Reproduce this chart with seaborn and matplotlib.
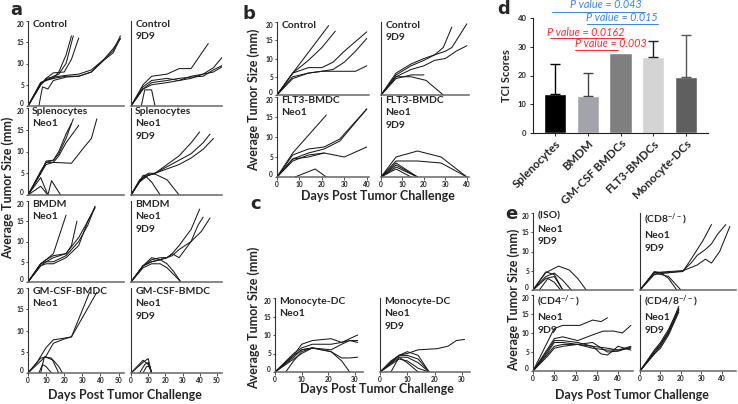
import numpy as np
import pandas as pd
import matplotlib
matplotlib.use("Agg")
import matplotlib.pyplot as plt
import seaborn as sns

sns.set_theme(style="white")
plt.rcParams['font.family'] = ['Lato', 'DejaVu Sans']
plt.rcParams['mathtext.default'] = 'regular'

# ---------------- data (day, tumor size) per mouse ----------------
# panel a
a_control = [
    ([0, 7, 10, 14, 17, 21, 24], [0, 5, 6.2, 6.5, 8, 12, 16.5]),
    ([0, 7, 10, 14, 17, 21, 25], [0, 5.5, 6, 7, 7.5, 10, 16.5]),
    ([0, 7, 10, 14, 20, 24, 28], [0, 5, 6.5, 7.8, 8, 11, 16]),
    ([0, 7, 10, 14, 21, 28, 35, 42, 47, 51], [0, 5.5, 6, 6.5, 7, 7, 8, 11, 13, 16.5]),
    ([0, 7, 10, 14, 21, 28, 35, 42, 47, 51], [0, 5, 6.5, 6.8, 7.2, 7.5, 8.5, 11, 13.5, 15.8]),
    ([6, 8, 11, 14, 21, 28, 35, 42, 47, 51], [0, 4.5, 4, 6, 6.8, 7, 8, 10.8, 12.5, 16]),
]
a_control_9d9 = [
    ([0, 7, 12, 21, 28, 35, 45], [0, 5, 7, 7.5, 8.8, 8.8, 14.7]),
    ([0, 7, 12, 21, 28, 35, 42, 48, 53], [0, 4.5, 6, 6.5, 6, 7, 7.5, 9, 11.4]),
    ([0, 7, 12, 21, 28, 35, 42, 48, 53], [0, 4, 5.5, 6, 6.5, 6.8, 7, 8.5, 9.5]),
    ([0, 7, 12, 21, 28, 35, 42, 48, 53], [0, 4, 5, 5.5, 6, 6.5, 7.5, 8, 9.2]),
    ([6, 8, 12, 14], [0, 3.8, 3.8, 0]),
]
a_spleno = [
    ([0, 7, 11], [0, 4, 0]),
    ([0, 7, 11, 13, 18], [0, 2, 0, 3.3, 0]),
    ([0, 7, 10, 14, 17, 21, 25], [0, 5, 7.5, 8, 9.5, 13, 17.5]),
    ([0, 7, 10, 14, 17, 21, 24], [0, 5, 7.8, 8, 10, 14, 16.5]),
    ([0, 7, 10, 14, 17, 21, 28], [0, 5.5, 7.5, 7.5, 9, 12, 16]),
    ([0, 7, 10, 14, 24, 31, 35, 38], [0, 5, 7, 7.5, 7.3, 11, 13, 17.5]),
]
a_spleno_9d9 = [
    ([0, 5, 10, 14, 21, 28, 35, 40], [0, 3, 4.5, 5, 7, 9, 12, 14.5]),
    ([0, 5, 10, 14, 21, 28, 35, 42, 46], [0, 3.5, 4.5, 5, 6.5, 8, 9.5, 12, 14]),
    ([0, 5, 10, 14, 21, 28, 35, 42, 48], [0, 3.2, 5, 5, 6, 7, 8.5, 10.5, 13]),
    ([0, 5, 8, 12, 17], [0, 3, 4.5, 3, 0]),
    ([0, 7, 14, 21, 28], [0, 4.5, 4.8, 3.5, 0]),
]
a_bmdm = [
    ([0, 7, 10, 14, 21], [0, 4.5, 5.5, 7, 16.5]),
    ([0, 7, 10, 14, 21, 24, 27], [0, 4.5, 5, 6, 7, 9, 15]),
    ([0, 7, 10, 14, 21, 28, 33, 37], [0, 4.5, 5.5, 6.5, 7, 11, 15, 18.5]),
    ([0, 7, 10, 14, 21, 28, 33, 37], [0, 4, 5, 5, 6.5, 10, 14, 18.7]),
    ([0, 7, 10, 14, 21, 28, 33, 37], [0, 4, 4.5, 4.5, 6, 9, 15, 18.3]),
]
a_bmdm_9d9 = [
    ([0, 7, 12, 17, 21, 24, 28, 35, 40], [0, 4, 6, 5.5, 6, 7, 9, 13, 18]),
    ([0, 7, 12, 17, 21, 24, 28, 35, 39, 42], [0, 4, 5.5, 6, 6, 7, 6, 10, 14, 16]),
    ([0, 7, 12, 17, 24, 28, 35, 41, 46], [0, 4, 5, 5.5, 6.5, 8, 10, 12.5, 15.8]),
    ([0, 7, 12, 17, 21, 25, 29], [0, 4, 5, 5.5, 4.5, 2.5, 0]),
    ([0, 7, 12, 17, 21, 28, 29], [0, 3.5, 4.5, 4.5, 3.5, 0.5, 0]),
]
a_gmcsf = [
    ([0, 5, 10, 14, 20, 24, 34], [0, 2.5, 6, 7.8, 8.2, 8.5, 19]),
    ([0, 5, 10, 14, 20, 24, 30, 38], [0, 2, 4, 7, 8, 8.5, 13, 19]),
    ([0, 7, 10, 14, 17, 19], [0, 3.5, 3.7, 3, 1.5, 0]),
    ([7, 9, 13, 17], [0, 3.8, 3.5, 0]),
    ([6, 8, 10, 13], [0, 2, 1.5, 0]),
]
a_gmcsf_9d9 = [
    ([0, 7, 10, 12], [0, 2.5, 3.4, 0]),
    ([0, 7, 10, 12], [0, 3, 2, 0]),
    ([5, 8, 10, 12], [0, 2, 2.5, 0]),
    ([7, 9, 11, 12], [0, 1.5, 1.5, 0]),
]
# panel b
b_control = [
    ([0, 7, 23], [0, 6, 19]),
    ([0, 7, 14, 20, 26], [0, 6, 9.5, 13, 17.5]),
    ([0, 7, 14, 20, 25, 30, 40], [0, 6, 7.5, 7.5, 9, 12, 17.3]),
    ([0, 7, 14, 20, 25, 30, 35, 40], [0, 5, 6, 6.5, 7, 9, 12, 15.5]),
    ([0, 7, 14, 20, 25, 35, 40], [0, 4.5, 6, 6.5, 6.5, 6.5, 8]),
]
b_control_9d9 = [
    ([0, 7, 14, 20, 25, 29, 33], [0, 5.5, 8, 9.5, 11, 13, 18.6]),
    ([0, 7, 14, 20, 25, 30, 33, 40], [0, 6, 8.5, 10, 11, 12, 13, 19.5]),
    ([0, 7, 14, 20, 25, 30, 35, 40], [0, 5, 7, 8, 9.5, 10, 12, 13.5]),
    ([0, 7, 14, 21, 25, 29], [0, 5, 5, 4, 2, 0]),
    ([0, 7, 14, 20], [0, 4.5, 5.5, 5.5]),
]
b_flt3 = [
    ([0, 7, 22], [0, 6, 15.5]),
    ([0, 7, 14, 21, 28, 40], [0, 5.5, 7, 7.5, 9.5, 17]),
    ([0, 7, 14, 21, 28, 40], [0, 4.5, 6, 7, 9, 17]),
    ([0, 7, 14, 21, 30, 40], [0, 4, 5.5, 6, 5, 7.5]),
    ([0, 7, 14, 21], [0, 4.5, 5, 6]),
    ([8, 17, 22], [0, 2, 0]),
]
b_flt3_9d9 = [
    ([0, 7, 17, 28, 40], [0, 5, 6.5, 5, 0]),
    ([0, 7, 17, 28, 40], [0, 4, 4, 3.5, 0]),
    ([0, 7, 17], [0, 3.5, 0]),
    ([0, 7, 17], [0, 3, 0]),
    ([0, 7, 17], [0, 2.5, 0]),
    ([0, 7, 14], [0, 2, 0]),
]
# panel c
c_mono = [
    ([0, 7, 10, 14, 21, 25, 28, 31], [0, 4.5, 7.5, 8.5, 9, 8, 9, 10]),
    ([0, 7, 10, 14, 21, 25, 28, 31], [0, 5, 6.5, 7.5, 7.5, 8, 8.5, 8.5]),
    ([0, 7, 10, 14, 21, 25, 28, 31], [0, 4.5, 6, 6.5, 6, 7.5, 8.5, 8]),
    ([0, 7, 10, 14, 21, 25, 28, 31], [0, 4, 6, 6.5, 5.5, 3.8, 3.8, 4]),
    ([0, 7, 10, 14, 21, 25, 28], [0, 3.5, 5, 6.5, 5.5, 3, 0]),
    ([4, 7, 10, 14], [0, 3, 5.5, 6.5]),
]
c_mono_9d9 = [
    ([0, 4, 7, 10, 14, 21, 25, 28, 31], [0, 3, 4.5, 5, 6, 6.3, 7, 8.5, 8.8]),
    ([0, 7, 10, 14, 18], [0, 4.5, 5.5, 4.5, 0]),
    ([0, 7, 10, 14, 18], [0, 4.5, 4.5, 3.5, 0]),
    ([0, 7, 10, 14, 18], [0, 4, 4, 2.5, 0]),
    ([0, 7, 10, 14, 18], [0, 3.5, 3, 1, 0]),
    ([4, 7, 10, 14], [0, 4, 2.5, 0]),
]
# panel d
d_cells = ["Splenocytes", "BMDM", "GM-CSF BMDCs", "FLT3-BMDCs", "Monocyte-DCs"]
d_tci = [13.5, 12.8, 27.8, 26.3, 19.4]
d_err = [10.5, 8.0, 0.0, 5.7, 14.7]
d_colors = ["#000000", "#a3a3ab", "#7f7f7f", "#d4d4d4", "#5f5f5f"]
d_err_colors = ["#000000", "#444444", "#7f7f7f", "#222222", "#555555"]
# panel e
e_iso = [
    ([0, 6, 12, 17, 21, 25], [0, 4.5, 6.2, 5.2, 3, 0]),
    ([0, 6, 10, 14], [0, 4.7, 4, 0]),
    ([0, 6, 10, 14, 18], [0, 3.5, 4.4, 2.5, 0]),
    ([0, 6, 10, 14], [0, 3, 3.5, 0]),
    ([3, 7, 10, 13], [0, 3, 2, 0]),
]
e_cd8 = [
    ([0, 7, 14, 21, 25, 28, 31, 35], [0, 4.5, 4.5, 4.8, 8, 10.5, 13, 17]),
    ([0, 7, 14, 21, 25, 28, 32, 35, 38, 42], [0, 4.5, 4.8, 5, 7, 9, 10.5, 12, 14.5, 17]),
    ([0, 7, 14, 21, 28, 32, 35, 39, 44], [0, 4, 4.5, 5, 6.5, 8, 7, 10, 16.5]),
    ([0, 7, 10, 14, 18], [0, 4.8, 4.5, 3, 0]),
    ([0, 7, 14, 20], [0, 4.5, 3.5, 0]),
]
e_cd4 = [
    ([0, 10, 14, 22, 28, 32, 35], [0, 11.2, 12, 12, 13.4, 13, 14]),
    ([0, 10, 14, 21, 28, 33, 38, 42, 46], [0, 8.5, 9, 8, 9.5, 10.5, 10.5, 10, 12]),
    ([0, 7, 10, 14, 21, 28, 35, 40, 46], [0, 5.5, 8, 8, 7.5, 6.5, 6, 5.5, 6]),
    ([0, 7, 10, 14, 21, 28, 32, 35, 40, 46], [0, 5, 7.5, 7.5, 7, 6.5, 4.5, 4.2, 6.5, 5.5]),
    ([0, 7, 10, 14, 21, 28, 35, 40, 46], [0, 4.5, 6.5, 7, 7, 7.5, 5, 5.2, 6.3]),
    ([0, 7, 10, 14, 21, 28, 35, 40, 46], [0, 4, 6, 6.5, 7, 6, 5.5, 5.5, 6.5]),
]
e_cd48 = [
    ([0, 7, 10, 14, 19], [0, 5, 7, 10.5, 17]),
    ([0, 7, 10, 14, 19], [0, 5.5, 7.5, 11, 16.5]),
    ([0, 7, 10, 14, 19], [0, 4.5, 6.5, 10, 16]),
    ([0, 7, 10, 14, 19], [0, 4.5, 6, 9.5, 15.5]),
    ([0, 7, 10, 14, 19], [0, 5, 7, 10, 16.2]),
]

# ---------------- figure ----------------
W, H = 738, 404
fig = plt.figure(figsize=(W / 100, H / 100), dpi=100)

def box(l, t, r, b):
    return fig.add_axes([l / W, 1 - b / H, (r - l) / W, (b - t) / H])

LINE = "#1a1a1a"
TICKFS = 4.8

def growth(ax, lines, label, xmax, xt, show_y, show_x):
    rows = []
    for i, (d, s) in enumerate(lines):
        for dd, ss in zip(d, s):
            rows.append((i, dd, ss))
    df = pd.DataFrame(rows, columns=["mouse", "day", "size"])
    sns.lineplot(data=df, x="day", y="size", units="mouse", estimator=None,
                 sort=False, color=LINE, linewidth=0.75, ax=ax, legend=False)
    ax.set_xlim(0, xmax)
    ax.set_ylim(0, 20)
    ax.set_xlabel("")
    ax.set_ylabel("")
    for sp in ["top", "right"]:
        ax.spines[sp].set_visible(False)
    ax.spines["left"].set_color("#333333")
    ax.spines["left"].set_linewidth(0.8)
    ax.spines["bottom"].set_color("#666666")
    ax.spines["bottom"].set_linewidth(1.1)
    ax.set_yticks([0, 5, 10, 15, 20])
    ax.set_xticks(xt)
    ax.tick_params(axis="both", length=1.8, width=0.6, pad=1, labelsize=TICKFS,
                   color="#333333")
    if show_y:
        ax.tick_params(axis="y", left=True, labelleft=True)
    else:
        ax.tick_params(axis="y", left=False, labelleft=False)
    if show_x:
        ax.tick_params(axis="x", bottom=True, labelbottom=True)
    else:
        ax.tick_params(axis="x", bottom=False, labelbottom=False)
    for t in ax.get_xticklabels() + ax.get_yticklabels():
        t.set_fontweight("bold")
    if show_y:
        ylabs = ax.get_yticklabels()
        if ylabs:
            ylabs[-1].set_va("top")
            ylabs[0].set_va("baseline")
    ax.annotate(label, xy=(0, 1), xycoords="axes fraction", xytext=(3, 1),
                textcoords="offset points", ha="left", va="top", fontsize=7.5,
                fontweight="bold", linespacing=1.55)

LBL = dict(fontsize=9, fontweight="bold")

# panel a
a_xt = [0, 10, 20, 30, 40, 50]
a_rows = [(21, 106), (108, 195), (201, 282), (288, 373)]
a_data = [(a_control, "Control", a_control_9d9, "Control\n9D9"),
          (a_spleno, "Splenocytes\nNeo1", a_spleno_9d9, "Splenocytes\nNeo1\n9D9"),
          (a_bmdm, "BMDM\nNeo1", a_bmdm_9d9, "BMDM\nNeo1\n9D9"),
          (a_gmcsf, "GM-CSF-BMDC\nNeo1", a_gmcsf_9d9, "GM-CSF-BMDC\nNeo1\n9D9")]
for i, ((t, b), (dl, ll, dr, lr)) in enumerate(zip(a_rows, a_data)):
    last = i == 3
    growth(box(28, t, 124, b), dl, ll, 53, a_xt, True, last)
    growth(box(131, t, 222, b), dr, lr, 53, a_xt, False, last)
fig.text(16 / W, 1 - 10 / H, "a", fontsize=13, fontweight="bold", ha="center", va="center",
         family="DejaVu Sans")
fig.text(8 / W, 1 - 188 / H, "Average Tumor Size (mm)", rotation=90, ha="center", va="center", **LBL)
fig.text(125 / W, 1 - 395 / H, "Days Post Tumor Challenge", ha="center", va="center", **LBL)

# panel b
b_xt = [0, 10, 20, 30, 40]
growth(box(277, 22, 369, 95), b_control, "Control", 41, b_xt, True, False)
growth(box(381, 22, 469, 95), b_control_9d9, "Control\n9D9", 41, b_xt, False, False)
growth(box(277, 97, 369, 177), b_flt3, "FLT3-BMDC\nNeo1", 41, b_xt, True, True)
growth(box(381, 97, 469, 177), b_flt3_9d9, "FLT3-BMDC\nNeo1\n9D9", 41, b_xt, False, True)
fig.text(249 / W, 1 - 14 / H, "b", fontsize=13, fontweight="bold", ha="center", va="center",
         family="DejaVu Sans")
fig.text(254 / W, 1 - 100 / H, "Average Tumor Size (mm)", rotation=90, ha="center", va="center", **LBL)
fig.text(378 / W, 1 - 196 / H, "Days Post Tumor Challenge", ha="center", va="center", **LBL)

# panel c
c_xt = [0, 10, 20, 30]
growth(box(275, 298, 363, 372), c_mono, "Monocyte-DC\nNeo1", 33, c_xt, True, True)
growth(box(380, 298, 470, 372), c_mono_9d9, "Monocyte-DC\nNeo1\n9D9", 33, c_xt, False, True)
fig.text(256 / W, 1 - 204 / H, "c", fontsize=13, fontweight="bold", ha="center", va="center",
         family="DejaVu Sans")
fig.text(254 / W, 1 - 318 / H, "Average Tumor Size (mm)", rotation=90, ha="center", va="center", **LBL)
fig.text(377 / W, 1 - 389 / H, "Days Post Tumor Challenge", ha="center", va="center", **LBL)

# panel d
axd = box(533, 18, 708, 133)
dfd = pd.DataFrame({"cell": d_cells, "tci": d_tci})
sns.barplot(data=dfd, x="cell", y="tci", hue="cell", palette=d_colors, legend=False,
            width=0.68, ax=axd, errorbar=None, saturation=1)
for i, (v, e, c) in enumerate(zip(d_tci, d_err, d_err_colors)):
    if e > 0:
        axd.errorbar(i, v, yerr=[[0], [e]], color=c, capsize=3.5, elinewidth=1.0,
                     capthick=1.0, fmt="none")
axd.set_ylim(0, 40)
axd.set_xlim(-0.67, 4.67)
axd.set_yticks([0, 10, 20, 30, 40])
axd.set_xlabel("")
axd.set_ylabel("TCI Scores", fontsize=8, fontweight="bold", labelpad=4)
for sp in ["top", "right"]:
    axd.spines[sp].set_visible(False)
for sp in ["left", "bottom"]:
    axd.spines[sp].set_color("#222222")
    axd.spines[sp].set_linewidth(0.8)
axd.tick_params(axis="y", left=True, length=2.5, width=0.7, labelsize=5.5, pad=2)
axd.tick_params(axis="x", bottom=True, length=2.5, width=0.7, labelsize=8.3, pad=1)
axd.set_xticks(range(len(d_cells)))
axd.set_xticklabels(d_cells, rotation=45, ha="right", rotation_mode="anchor",
                    fontweight="bold")
for t in axd.get_yticklabels():
    t.set_fontweight("bold")
blue, red = "#3d85e0", "#ff2b2b"
pv = [("P value = 0.043", blue, 1.56, 44.6, -0.09, 2.75, 42.1),
      ("P value = 0.015", blue, 2.05, 40.3, 0.98, 3.15, 37.9),
      ("P value = 0.0162", red, 0.95, 34.8, -0.15, 2.10, 33.0),
      ("P value = 0.003", red, 1.71, 31.0, 0.61, 1.92, 28.9)]
for txt, col, tx, ty, x0, x1, ly in pv:
    axd.text(tx, ty, txt, color=col, fontsize=7.8, style="italic", ha="center",
             va="center", clip_on=False)
    axd.plot([x0, x1], [ly, ly], color=col, lw=0.7, clip_on=False)
fig.text(504 / W, 1 - 9 / H, "d", fontsize=13, fontweight="bold", ha="center", va="center",
         family="DejaVu Sans")

# panel e
e_xt = [0, 10, 20, 30, 40]
growth(box(533, 213, 633, 290), e_iso, "(ISO)\nNeo1\n9D9", 47, e_xt, True, False)
growth(box(640, 213, 736, 290), e_cd8, "(CD8$^{-/-}$)\nNeo1\n9D9", 47, e_xt, False, False)
growth(box(533, 295, 633, 371), e_cd4, "(CD4$^{-/-}$)\nNeo1\n9D9", 47, e_xt, True, True)
growth(box(640, 295, 736, 371), e_cd48, "(CD4/8$^{-/-}$)\nNeo1\n9D9", 47, e_xt, False, True)
fig.text(511 / W, 1 - 214 / H, "e", fontsize=13, fontweight="bold", ha="center", va="center",
         family="DejaVu Sans")
fig.text(514 / W, 1 - 300 / H, "Average Tumor Size (mm)", rotation=90, ha="center", va="center", **LBL)
fig.text(632 / W, 1 - 395 / H, "Days Post Tumor Challenge", ha="center", va="center", **LBL)

fig.savefig("out.png", dpi=100)
